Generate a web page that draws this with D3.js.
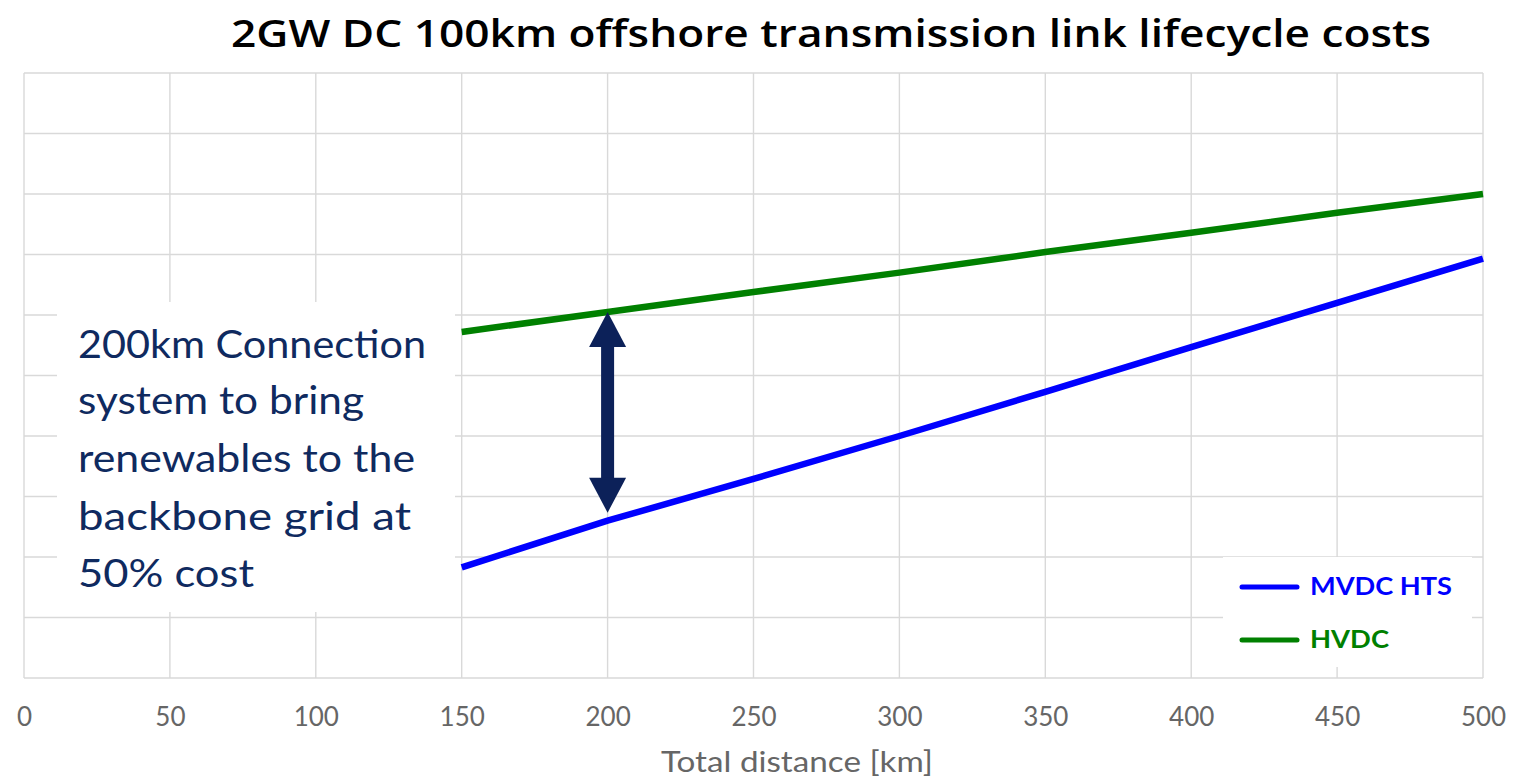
<!DOCTYPE html>
<html>
<head>
<meta charset="utf-8">
<script src="https://cdn.jsdelivr.net/npm/d3@7/dist/d3.min.js"></script>
<style>
  html, body { margin: 0; padding: 0; background: #fff; }
  svg { display: block; }
</style>
</head>
<body>
<svg id="chart" width="1534" height="778"></svg>
<script>
// ---- data ----
const distances = [150, 200, 250, 300, 350, 400, 450, 500];
const mvdcHts   = [1.83, 2.60, 3.29, 4.00, 4.73, 5.47, 6.20, 6.93];
const hvdc      = [5.72, 6.05, 6.38, 6.70, 7.04, 7.36, 7.69, 8.00];
const xTicks    = [0, 50, 100, 150, 200, 250, 300, 350, 400, 450, 500];
const yTicks    = [0, 1, 2, 3, 4, 5, 6, 7, 8, 9, 10];
const seriesNames = ["MVDC HTS", "HVDC"];
const annotationLines = ["200km Connection", "system to bring", "renewables to the", "backbone grid at", "50% cost"];
const arrowAt = 200;
const titleText = "2GW DC 100km offshore transmission link lifecycle costs";
const xTitle = "Total distance [km]";

// ---- layout ----
const W = 1534, H = 778;
const m = { left: 24, right: 51, top: 73, bottom: 100 };
const svg = d3.select("#chart");

const x = d3.scaleLinear().domain([0, 500]).range([m.left, W - m.right]);
const y = d3.scaleLinear().domain([0, 10]).range([H - m.bottom, m.top]);

const gridColor = "#d9d9d9";
const labelFont = "Lato, 'Noto Sans', sans-serif";

// gridlines
const grid = svg.append("g");
grid.selectAll("line.v").data(xTicks).join("line")
  .attr("x1", d => x(d)).attr("x2", d => x(d))
  .attr("y1", y(10)).attr("y2", y(0))
  .attr("stroke", gridColor).attr("stroke-width", 1.4);
grid.selectAll("line.h").data(yTicks).join("line")
  .attr("x1", x(0)).attr("x2", x(500))
  .attr("y1", d => y(d)).attr("y2", d => y(d))
  .attr("stroke", gridColor).attr("stroke-width", 1.4);

// x axis labels
const xAxis = d3.axisBottom(x).tickValues(xTicks).tickSize(0).tickPadding(30);
const gx = svg.append("g").attr("transform", `translate(0,${y(0)})`).call(xAxis);
gx.select(".domain").remove();
gx.selectAll("text")
  .attr("fill", "#666666")
  .style("font-family", labelFont)
  .style("font-size", "26px");

// x axis title
svg.append("text")
  .attr("x", 797).attr("y", 772)
  .attr("text-anchor", "middle")
  .attr("fill", "#666666")
  .style("font-family", labelFont)
  .style("font-size", "28px")
  .attr("textLength", 272).attr("lengthAdjust", "spacingAndGlyphs")
  .text(xTitle);

// title
svg.append("text")
  .attr("x", 831).attr("y", 47)
  .attr("text-anchor", "middle")
  .attr("fill", "#000")
  .style("font-family", "'Open Sans', 'Liberation Sans', sans-serif")
  .style("font-weight", 600)
  .style("font-size", "37px")
  .attr("textLength", 1200).attr("lengthAdjust", "spacingAndGlyphs")
  .text(titleText);

// annotation white box
svg.append("rect")
  .attr("x", 57).attr("y", 302).attr("width", 398).attr("height", 310)
  .attr("fill", "#fff");

// legend white box
svg.append("rect")
  .attr("x", 1223).attr("y", 557).attr("width", 249).attr("height", 110)
  .attr("fill", "#fff");

// lines
const line = d3.line().x(d => x(d[0])).y(d => y(d[1]));
const series = [
  { name: seriesNames[0], color: "#0000ff", values: mvdcHts },
  { name: seriesNames[1], color: "#008000", values: hvdc }
];
svg.append("g").selectAll("path").data(series).join("path")
  .attr("d", s => line(distances.map((d, i) => [d, s.values[i]])))
  .attr("fill", "none")
  .attr("stroke", s => s.color)
  .attr("stroke-width", 6.5);

// annotation text
const annW = [348, 286, 337, 333, 176];
const annY = [358, 414, 472, 530, 587];
svg.append("g").selectAll("text").data(annotationLines).join("text")
  .attr("x", 78).attr("y", (d, i) => annY[i])
  .attr("fill", "#0f2a5f")
  .style("font-family", labelFont)
  .style("font-size", "38px")
  .attr("textLength", (d, i) => annW[i]).attr("lengthAdjust", "spacingAndGlyphs")
  .text(d => d);

// double-headed arrow
const ai = distances.indexOf(arrowAt);
const ax = x(arrowAt);
const yTop = y(hvdc[ai]);
const yBot = y(mvdcHts[ai]) - 8;
const headH = 35, headW = 37, shaftW = 13;
const navy = "#0c2159";
svg.append("rect")
  .attr("x", ax - shaftW / 2).attr("y", yTop + headH - 2)
  .attr("width", shaftW).attr("height", (yBot - yTop) - 2 * headH + 4)
  .attr("fill", navy);
svg.append("path")
  .attr("d", `M${ax},${yTop} L${ax + headW / 2},${yTop + headH} L${ax - headW / 2},${yTop + headH} Z`)
  .attr("fill", navy);
svg.append("path")
  .attr("d", `M${ax},${yBot} L${ax + headW / 2},${yBot - headH} L${ax - headW / 2},${yBot - headH} Z`)
  .attr("fill", navy);

// legend
const legY = [587, 640];
const leg = svg.append("g");
leg.selectAll("line").data(series).join("line")
  .attr("x1", 1242).attr("x2", 1297)
  .attr("y1", (d, i) => legY[i]).attr("y2", (d, i) => legY[i])
  .attr("stroke", d => d.color)
  .attr("stroke-width", 5)
  .attr("stroke-linecap", "round");
leg.selectAll("text").data(series).join("text")
  .attr("x", 1310).attr("y", (d, i) => legY[i] + 8)
  .attr("fill", d => d.color)
  .style("font-family", labelFont)
  .style("font-weight", 700)
  .style("font-size", "24px")
  .attr("textLength", (d, i) => i === 0 ? 142 : 79).attr("lengthAdjust", "spacingAndGlyphs")
  .text(d => d.name);
</script>
</body>
</html>
